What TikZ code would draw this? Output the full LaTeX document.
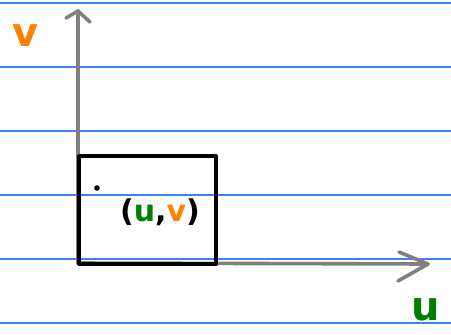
\documentclass[tikz,border=0pt]{standalone}
\usepackage{fontspec}
\setmainfont{DejaVu Sans}
\definecolor{ruleblue}{RGB}{60,130,240}
\definecolor{axisgray}{RGB}{128,128,128}
\definecolor{vorange}{RGB}{255,128,0}
\definecolor{ugreen}{RGB}{0,128,0}
\tikzset{
  rule/.style={ruleblue, line width=1.3pt},
  axis/.style={axisgray, line width=3.6pt, line cap=round, line join=round},
  boxst/.style={draw=black, line width=4.2pt, line join=round},
  lbl/.style={inner sep=0pt, font=\bfseries\fontsize{40}{40}\selectfont}
}
\begin{document}
\begin{tikzpicture}[x=1pt,y=-1pt]
\useasboundingbox (0,0) rectangle (451,335);
\fill[white] (0,0) rectangle (451,335);
% ruled lines
\foreach \yy in {3,67,131,195,259,323} \draw[rule] (0,\yy) -- (451,\yy);
% axes
\coordinate (o) at (78,263);
\coordinate (ytop) at (78,11);
\coordinate (xend) at (428,264);
\draw[axis] (o) -- (ytop);
\draw[axis] (66,18) -- (ytop) -- (90,22);
\draw[axis] (o) -- (xend);
\draw[axis] (399,252) -- (xend) -- (398,281);
% box
\node[boxst, minimum width=137pt, minimum height=108pt, inner sep=0pt, anchor=north west] (box) at (77,154) {};
% dot
\fill[black] (97,188) circle (2.8pt);
% labels
\node[lbl, text=vorange] (v) at (26,36) {v};
\node[lbl, text=ugreen] (u) at (426,310) {u};
\node[lbl, font=\bfseries\fontsize{30}{30}\selectfont] (uv) at (160,212) {(\textcolor{ugreen}{u},\textcolor{vorange}{v})};
\end{tikzpicture}
\end{document}
